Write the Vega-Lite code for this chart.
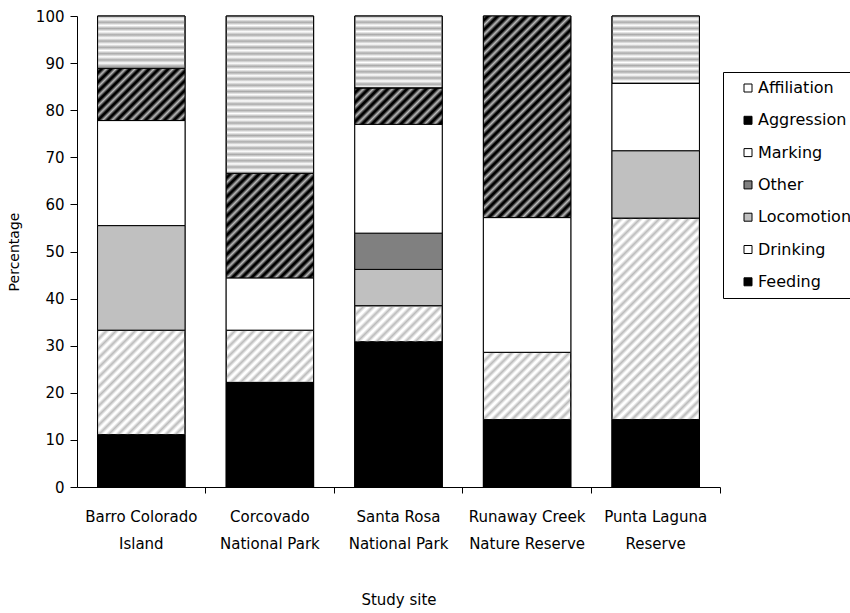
{
  "$schema": "https://vega.github.io/schema/vega-lite/v6.json",
  "width": 643,
  "height": 471,
  "autosize": {"type": "none"},
  "padding": {"left": 77, "top": 16, "right": 130, "bottom": 126},
  "background": "white",
  "config": {
    "view": {"stroke": null},
    "axis": {
      "grid": false,
      "domainColor": "black",
      "tickColor": "black",
      "labelColor": "black",
      "titleColor": "black",
      "labelFont": "DejaVu Sans",
      "titleFont": "DejaVu Sans",
      "labelFontSize": 15,
      "titleFontSize": 15,
      "titleFontWeight": "normal",
      "domainWidth": 1,
      "tickWidth": 1
    }
  },
  "data": {
    "values": [
      {"site": "Barro Colorado Island", "behavior": "Feeding", "percentage": 11.1},
      {"site": "Barro Colorado Island", "behavior": "Drinking", "percentage": 22.2},
      {"site": "Barro Colorado Island", "behavior": "Locomotion", "percentage": 22.2},
      {"site": "Barro Colorado Island", "behavior": "Marking", "percentage": 22.3},
      {"site": "Barro Colorado Island", "behavior": "Aggression", "percentage": 11.1},
      {"site": "Barro Colorado Island", "behavior": "Affiliation", "percentage": 11.1},
      {"site": "Corcovado National Park", "behavior": "Feeding", "percentage": 22.2},
      {"site": "Corcovado National Park", "behavior": "Drinking", "percentage": 11.1},
      {"site": "Corcovado National Park", "behavior": "Marking", "percentage": 11.1},
      {"site": "Corcovado National Park", "behavior": "Aggression", "percentage": 22.2},
      {"site": "Corcovado National Park", "behavior": "Affiliation", "percentage": 33.4},
      {"site": "Santa Rosa National Park", "behavior": "Feeding", "percentage": 30.8},
      {"site": "Santa Rosa National Park", "behavior": "Drinking", "percentage": 7.7},
      {"site": "Santa Rosa National Park", "behavior": "Locomotion", "percentage": 7.7},
      {"site": "Santa Rosa National Park", "behavior": "Other", "percentage": 7.7},
      {"site": "Santa Rosa National Park", "behavior": "Marking", "percentage": 23.1},
      {"site": "Santa Rosa National Park", "behavior": "Aggression", "percentage": 7.7},
      {"site": "Santa Rosa National Park", "behavior": "Affiliation", "percentage": 15.3},
      {"site": "Runaway Creek Nature Reserve", "behavior": "Feeding", "percentage": 14.3},
      {"site": "Runaway Creek Nature Reserve", "behavior": "Drinking", "percentage": 14.3},
      {"site": "Runaway Creek Nature Reserve", "behavior": "Marking", "percentage": 28.6},
      {"site": "Runaway Creek Nature Reserve", "behavior": "Aggression", "percentage": 42.8},
      {"site": "Punta Laguna Reserve", "behavior": "Feeding", "percentage": 14.3},
      {"site": "Punta Laguna Reserve", "behavior": "Drinking", "percentage": 42.8},
      {"site": "Punta Laguna Reserve", "behavior": "Locomotion", "percentage": 14.3},
      {"site": "Punta Laguna Reserve", "behavior": "Marking", "percentage": 14.3},
      {"site": "Punta Laguna Reserve", "behavior": "Affiliation", "percentage": 14.3}
    ]
  },
  "transform": [
    {
      "lookup": "behavior",
      "from": {
        "data": {
          "values": [
            {"behavior": "Feeding", "seriesOrder": 1},
            {"behavior": "Drinking", "seriesOrder": 2},
            {"behavior": "Locomotion", "seriesOrder": 3},
            {"behavior": "Other", "seriesOrder": 4},
            {"behavior": "Marking", "seriesOrder": 5},
            {"behavior": "Aggression", "seriesOrder": 6},
            {"behavior": "Affiliation", "seriesOrder": 7}
          ]
        },
        "key": "behavior",
        "fields": ["seriesOrder"]
      }
    }
  ],
  "encoding": {
    "x": {
      "field": "site",
      "type": "nominal",
      "sort": null,
      "scale": {"paddingInner": 0.32, "paddingOuter": 0.16},
      "axis": {
        "title": "Study site",
        "labelAngle": 0,
        "bandPosition": 1.2355,
        "tickSize": 6,
        "labelPadding": 16,
        "labelLineHeight": 27,
        "labelOverlap": false,
        "labelExpr": "datum.label === 'Corcovado National Park' ? ['Corcovado', 'National Park'] : datum.label === 'Santa Rosa National Park' ? ['Santa Rosa', 'National Park'] : datum.label === 'Runaway Creek Nature Reserve' ? ['Runaway Creek', 'Nature Reserve'] : datum.label === 'Punta Laguna Reserve' ? ['Punta Laguna', 'Reserve'] : ['Barro Colorado', 'Island']",
        "titleY": 117,
        "titleBaseline": "alphabetic"
      }
    },
    "y": {
      "field": "percentage",
      "type": "quantitative",
      "stack": "zero",
      "scale": {"domain": [0, 100], "nice": false},
      "axis": {
        "title": "Percentage",
        "values": [0, 10, 20, 30, 40, 50, 60, 70, 80, 90, 100],
        "tickSize": 7,
        "labelPadding": 6,
        "titleX": -59,
        "titleY": 235.5,
        "titleAngle": -90,
        "titleBaseline": "alphabetic",
        "titleAlign": "center",
        "titleFontSize": 14
      }
    },
    "order": {"field": "seriesOrder", "type": "quantitative", "sort": "ascending"}
  },
  "layer": [
    {
      "mark": {"type": "bar", "stroke": "black", "strokeWidth": 1},
      "encoding": {
        "fill": {
          "field": "behavior",
          "type": "nominal",
          "scale": {
            "domain": ["Affiliation", "Aggression", "Marking", "Other", "Locomotion", "Drinking", "Feeding"],
            "range": ["#ffffff", "#000000", "#ffffff", "#808080", "#c0c0c0", "#ffffff", "#000000"]
          },
          "legend": {
            "title": null,
            "orient": "none",
            "direction": "vertical",
            "legendX": 646,
            "legendY": 56,
            "padding": 8,
            "strokeColor": "black",
            "fillColor": "white",
            "symbolType": "square",
            "symbolSize": 64,
            "symbolStrokeColor": "black",
            "symbolStrokeWidth": 1,
            "symbolOffset": 9,
            "labelOffset": 2,
            "rowPadding": 16.3,
            "labelFont": "DejaVu Sans",
            "labelFontSize": 16,
            "labelColor": "black"
          }
        }
      }
    },
    {
      "mark": {"type": "bar", "stroke": "black", "strokeWidth": 1},
      "encoding": {
        "fill": {
          "condition": [
            {"test": "(datum.behavior === 'Drinking' || datum.behavior === 'Aggression') && datum.percentage < 9", "value": {"gradient": "linear", "x1": 0, "y1": 0, "x2": 1.207, "y2": 0.5006, "stops": [
              {"offset": 0, "color": "#bbb"}, {"offset": 0.0312, "color": "#bbb0"}, {"offset": 0.0468, "color": "#bbb0"},
              {"offset": 0.078, "color": "#bbb"}, {"offset": 0.1092, "color": "#bbb0"}, {"offset": 0.1248, "color": "#bbb0"},
              {"offset": 0.156, "color": "#bbb"}, {"offset": 0.1872, "color": "#bbb0"}, {"offset": 0.2028, "color": "#bbb0"},
              {"offset": 0.234, "color": "#bbb"}, {"offset": 0.2652, "color": "#bbb0"}, {"offset": 0.2808, "color": "#bbb0"},
              {"offset": 0.312, "color": "#bbb"}, {"offset": 0.3432, "color": "#bbb0"}, {"offset": 0.3588, "color": "#bbb0"},
              {"offset": 0.39, "color": "#bbb"}, {"offset": 0.4212, "color": "#bbb0"}, {"offset": 0.4368, "color": "#bbb0"},
              {"offset": 0.468, "color": "#bbb"}, {"offset": 0.4992, "color": "#bbb0"}, {"offset": 0.5148, "color": "#bbb0"},
              {"offset": 0.546, "color": "#bbb"}, {"offset": 0.5772, "color": "#bbb0"}, {"offset": 0.5928, "color": "#bbb0"},
              {"offset": 0.624, "color": "#bbb"}, {"offset": 0.6552, "color": "#bbb0"}, {"offset": 0.6708, "color": "#bbb0"},
              {"offset": 0.702, "color": "#bbb"}, {"offset": 0.7332, "color": "#bbb0"}, {"offset": 0.7488, "color": "#bbb0"},
              {"offset": 0.78, "color": "#bbb"}, {"offset": 0.8112, "color": "#bbb0"}, {"offset": 0.8268, "color": "#bbb0"},
              {"offset": 0.858, "color": "#bbb"}, {"offset": 0.8892, "color": "#bbb0"}, {"offset": 0.9048, "color": "#bbb0"},
              {"offset": 0.936, "color": "#bbb"}, {"offset": 0.9672, "color": "#bbb0"}, {"offset": 0.9828, "color": "#bbb0"}]}},
            {"test": "(datum.behavior === 'Drinking' || datum.behavior === 'Aggression') && datum.percentage < 13", "value": {"gradient": "linear", "x1": 0, "y1": 0, "x2": 1.1772, "y2": 0.7038, "stops": [
              {"offset": 0, "color": "#bbb"}, {"offset": 0.0272, "color": "#bbb0"}, {"offset": 0.0408, "color": "#bbb0"},
              {"offset": 0.068, "color": "#bbb"}, {"offset": 0.0952, "color": "#bbb0"}, {"offset": 0.1088, "color": "#bbb0"},
              {"offset": 0.136, "color": "#bbb"}, {"offset": 0.1632, "color": "#bbb0"}, {"offset": 0.1768, "color": "#bbb0"},
              {"offset": 0.204, "color": "#bbb"}, {"offset": 0.2312, "color": "#bbb0"}, {"offset": 0.2448, "color": "#bbb0"},
              {"offset": 0.272, "color": "#bbb"}, {"offset": 0.2992, "color": "#bbb0"}, {"offset": 0.3128, "color": "#bbb0"},
              {"offset": 0.34, "color": "#bbb"}, {"offset": 0.3672, "color": "#bbb0"}, {"offset": 0.3808, "color": "#bbb0"},
              {"offset": 0.408, "color": "#bbb"}, {"offset": 0.4352, "color": "#bbb0"}, {"offset": 0.4488, "color": "#bbb0"},
              {"offset": 0.476, "color": "#bbb"}, {"offset": 0.5032, "color": "#bbb0"}, {"offset": 0.5168, "color": "#bbb0"},
              {"offset": 0.544, "color": "#bbb"}, {"offset": 0.5712, "color": "#bbb0"}, {"offset": 0.5848, "color": "#bbb0"},
              {"offset": 0.612, "color": "#bbb"}, {"offset": 0.6392, "color": "#bbb0"}, {"offset": 0.6528, "color": "#bbb0"},
              {"offset": 0.68, "color": "#bbb"}, {"offset": 0.7072, "color": "#bbb0"}, {"offset": 0.7208, "color": "#bbb0"},
              {"offset": 0.748, "color": "#bbb"}, {"offset": 0.7752, "color": "#bbb0"}, {"offset": 0.7888, "color": "#bbb0"},
              {"offset": 0.816, "color": "#bbb"}, {"offset": 0.8432, "color": "#bbb0"}, {"offset": 0.8568, "color": "#bbb0"},
              {"offset": 0.884, "color": "#bbb"}, {"offset": 0.9112, "color": "#bbb0"}, {"offset": 0.9248, "color": "#bbb0"},
              {"offset": 0.952, "color": "#bbb"}, {"offset": 0.9792, "color": "#bbb0"}, {"offset": 0.9928, "color": "#bbb0"}]}},
            {"test": "(datum.behavior === 'Drinking' || datum.behavior === 'Aggression') && datum.percentage < 18", "value": {"gradient": "linear", "x1": 0, "y1": 0, "x2": 1.1111, "y2": 0.8557, "stops": [
              {"offset": 0, "color": "#bbb"}, {"offset": 0.0248, "color": "#bbb0"}, {"offset": 0.0372, "color": "#bbb0"},
              {"offset": 0.062, "color": "#bbb"}, {"offset": 0.0868, "color": "#bbb0"}, {"offset": 0.0992, "color": "#bbb0"},
              {"offset": 0.124, "color": "#bbb"}, {"offset": 0.1488, "color": "#bbb0"}, {"offset": 0.1612, "color": "#bbb0"},
              {"offset": 0.186, "color": "#bbb"}, {"offset": 0.2108, "color": "#bbb0"}, {"offset": 0.2232, "color": "#bbb0"},
              {"offset": 0.248, "color": "#bbb"}, {"offset": 0.2728, "color": "#bbb0"}, {"offset": 0.2852, "color": "#bbb0"},
              {"offset": 0.31, "color": "#bbb"}, {"offset": 0.3348, "color": "#bbb0"}, {"offset": 0.3472, "color": "#bbb0"},
              {"offset": 0.372, "color": "#bbb"}, {"offset": 0.3968, "color": "#bbb0"}, {"offset": 0.4092, "color": "#bbb0"},
              {"offset": 0.434, "color": "#bbb"}, {"offset": 0.4588, "color": "#bbb0"}, {"offset": 0.4712, "color": "#bbb0"},
              {"offset": 0.496, "color": "#bbb"}, {"offset": 0.5208, "color": "#bbb0"}, {"offset": 0.5332, "color": "#bbb0"},
              {"offset": 0.558, "color": "#bbb"}, {"offset": 0.5828, "color": "#bbb0"}, {"offset": 0.5952, "color": "#bbb0"},
              {"offset": 0.62, "color": "#bbb"}, {"offset": 0.6448, "color": "#bbb0"}, {"offset": 0.6572, "color": "#bbb0"},
              {"offset": 0.682, "color": "#bbb"}, {"offset": 0.7068, "color": "#bbb0"}, {"offset": 0.7192, "color": "#bbb0"},
              {"offset": 0.744, "color": "#bbb"}, {"offset": 0.7688, "color": "#bbb0"}, {"offset": 0.7812, "color": "#bbb0"},
              {"offset": 0.806, "color": "#bbb"}, {"offset": 0.8308, "color": "#bbb0"}, {"offset": 0.8432, "color": "#bbb0"},
              {"offset": 0.868, "color": "#bbb"}, {"offset": 0.8928, "color": "#bbb0"}, {"offset": 0.9052, "color": "#bbb0"},
              {"offset": 0.93, "color": "#bbb"}, {"offset": 0.9548, "color": "#bbb0"}, {"offset": 0.9672, "color": "#bbb0"},
              {"offset": 0.992, "color": "#bbb"}]}},
            {"test": "(datum.behavior === 'Drinking' || datum.behavior === 'Aggression') && datum.percentage < 30", "value": {"gradient": "linear", "x1": 0, "y1": 0, "x2": 0.9037, "y2": 1.0805, "stops": [
              {"offset": 0, "color": "#bbb"}, {"offset": 0.02, "color": "#bbb0"}, {"offset": 0.03, "color": "#bbb0"},
              {"offset": 0.05, "color": "#bbb"}, {"offset": 0.07, "color": "#bbb0"}, {"offset": 0.08, "color": "#bbb0"},
              {"offset": 0.1, "color": "#bbb"}, {"offset": 0.12, "color": "#bbb0"}, {"offset": 0.13, "color": "#bbb0"},
              {"offset": 0.15, "color": "#bbb"}, {"offset": 0.17, "color": "#bbb0"}, {"offset": 0.18, "color": "#bbb0"},
              {"offset": 0.2, "color": "#bbb"}, {"offset": 0.22, "color": "#bbb0"}, {"offset": 0.23, "color": "#bbb0"},
              {"offset": 0.25, "color": "#bbb"}, {"offset": 0.27, "color": "#bbb0"}, {"offset": 0.28, "color": "#bbb0"},
              {"offset": 0.3, "color": "#bbb"}, {"offset": 0.32, "color": "#bbb0"}, {"offset": 0.33, "color": "#bbb0"},
              {"offset": 0.35, "color": "#bbb"}, {"offset": 0.37, "color": "#bbb0"}, {"offset": 0.38, "color": "#bbb0"},
              {"offset": 0.4, "color": "#bbb"}, {"offset": 0.42, "color": "#bbb0"}, {"offset": 0.43, "color": "#bbb0"},
              {"offset": 0.45, "color": "#bbb"}, {"offset": 0.47, "color": "#bbb0"}, {"offset": 0.48, "color": "#bbb0"},
              {"offset": 0.5, "color": "#bbb"}, {"offset": 0.52, "color": "#bbb0"}, {"offset": 0.53, "color": "#bbb0"},
              {"offset": 0.55, "color": "#bbb"}, {"offset": 0.57, "color": "#bbb0"}, {"offset": 0.58, "color": "#bbb0"},
              {"offset": 0.6, "color": "#bbb"}, {"offset": 0.62, "color": "#bbb0"}, {"offset": 0.63, "color": "#bbb0"},
              {"offset": 0.65, "color": "#bbb"}, {"offset": 0.67, "color": "#bbb0"}, {"offset": 0.68, "color": "#bbb0"},
              {"offset": 0.7, "color": "#bbb"}, {"offset": 0.72, "color": "#bbb0"}, {"offset": 0.73, "color": "#bbb0"},
              {"offset": 0.75, "color": "#bbb"}, {"offset": 0.77, "color": "#bbb0"}, {"offset": 0.78, "color": "#bbb0"},
              {"offset": 0.8, "color": "#bbb"}, {"offset": 0.82, "color": "#bbb0"}, {"offset": 0.83, "color": "#bbb0"},
              {"offset": 0.85, "color": "#bbb"}, {"offset": 0.87, "color": "#bbb0"}, {"offset": 0.88, "color": "#bbb0"},
              {"offset": 0.9, "color": "#bbb"}, {"offset": 0.92, "color": "#bbb0"}, {"offset": 0.93, "color": "#bbb0"},
              {"offset": 0.95, "color": "#bbb"}, {"offset": 0.97, "color": "#bbb0"}, {"offset": 0.98, "color": "#bbb0"},
              {"offset": 1, "color": "#bbb"}]}},
            {"test": "datum.behavior === 'Drinking' || datum.behavior === 'Aggression'", "value": {"gradient": "linear", "x1": 0, "y1": 0, "x2": 0.5235, "y2": 1.2068, "stops": [
              {"offset": 0, "color": "#bbb"}, {"offset": 0.0133, "color": "#bbb0"}, {"offset": 0.02, "color": "#bbb0"},
              {"offset": 0.0333, "color": "#bbb"}, {"offset": 0.0466, "color": "#bbb0"}, {"offset": 0.0533, "color": "#bbb0"},
              {"offset": 0.0666, "color": "#bbb"}, {"offset": 0.0799, "color": "#bbb0"}, {"offset": 0.0866, "color": "#bbb0"},
              {"offset": 0.0999, "color": "#bbb"}, {"offset": 0.1132, "color": "#bbb0"}, {"offset": 0.1199, "color": "#bbb0"},
              {"offset": 0.1332, "color": "#bbb"}, {"offset": 0.1465, "color": "#bbb0"}, {"offset": 0.1532, "color": "#bbb0"},
              {"offset": 0.1665, "color": "#bbb"}, {"offset": 0.1798, "color": "#bbb0"}, {"offset": 0.1865, "color": "#bbb0"},
              {"offset": 0.1998, "color": "#bbb"}, {"offset": 0.2131, "color": "#bbb0"}, {"offset": 0.2198, "color": "#bbb0"},
              {"offset": 0.2331, "color": "#bbb"}, {"offset": 0.2464, "color": "#bbb0"}, {"offset": 0.2531, "color": "#bbb0"},
              {"offset": 0.2664, "color": "#bbb"}, {"offset": 0.2797, "color": "#bbb0"}, {"offset": 0.2864, "color": "#bbb0"},
              {"offset": 0.2997, "color": "#bbb"}, {"offset": 0.313, "color": "#bbb0"}, {"offset": 0.3197, "color": "#bbb0"},
              {"offset": 0.333, "color": "#bbb"}, {"offset": 0.3463, "color": "#bbb0"}, {"offset": 0.353, "color": "#bbb0"},
              {"offset": 0.3663, "color": "#bbb"}, {"offset": 0.3796, "color": "#bbb0"}, {"offset": 0.3863, "color": "#bbb0"},
              {"offset": 0.3996, "color": "#bbb"}, {"offset": 0.4129, "color": "#bbb0"}, {"offset": 0.4196, "color": "#bbb0"},
              {"offset": 0.4329, "color": "#bbb"}, {"offset": 0.4462, "color": "#bbb0"}, {"offset": 0.4529, "color": "#bbb0"},
              {"offset": 0.4662, "color": "#bbb"}, {"offset": 0.4795, "color": "#bbb0"}, {"offset": 0.4862, "color": "#bbb0"},
              {"offset": 0.4995, "color": "#bbb"}, {"offset": 0.5128, "color": "#bbb0"}, {"offset": 0.5195, "color": "#bbb0"},
              {"offset": 0.5328, "color": "#bbb"}, {"offset": 0.5461, "color": "#bbb0"}, {"offset": 0.5528, "color": "#bbb0"},
              {"offset": 0.5661, "color": "#bbb"}, {"offset": 0.5794, "color": "#bbb0"}, {"offset": 0.5861, "color": "#bbb0"},
              {"offset": 0.5994, "color": "#bbb"}, {"offset": 0.6127, "color": "#bbb0"}, {"offset": 0.6194, "color": "#bbb0"},
              {"offset": 0.6327, "color": "#bbb"}, {"offset": 0.646, "color": "#bbb0"}, {"offset": 0.6527, "color": "#bbb0"},
              {"offset": 0.666, "color": "#bbb"}, {"offset": 0.6793, "color": "#bbb0"}, {"offset": 0.686, "color": "#bbb0"},
              {"offset": 0.6993, "color": "#bbb"}, {"offset": 0.7126, "color": "#bbb0"}, {"offset": 0.7193, "color": "#bbb0"},
              {"offset": 0.7326, "color": "#bbb"}, {"offset": 0.7459, "color": "#bbb0"}, {"offset": 0.7526, "color": "#bbb0"},
              {"offset": 0.7659, "color": "#bbb"}, {"offset": 0.7792, "color": "#bbb0"}, {"offset": 0.7859, "color": "#bbb0"},
              {"offset": 0.7992, "color": "#bbb"}, {"offset": 0.8125, "color": "#bbb0"}, {"offset": 0.8192, "color": "#bbb0"},
              {"offset": 0.8325, "color": "#bbb"}, {"offset": 0.8458, "color": "#bbb0"}, {"offset": 0.8525, "color": "#bbb0"},
              {"offset": 0.8658, "color": "#bbb"}, {"offset": 0.8791, "color": "#bbb0"}, {"offset": 0.8858, "color": "#bbb0"},
              {"offset": 0.8991, "color": "#bbb"}, {"offset": 0.9124, "color": "#bbb0"}, {"offset": 0.9191, "color": "#bbb0"},
              {"offset": 0.9324, "color": "#bbb"}, {"offset": 0.9457, "color": "#bbb0"}, {"offset": 0.9524, "color": "#bbb0"},
              {"offset": 0.9657, "color": "#bbb"}, {"offset": 0.979, "color": "#bbb0"}, {"offset": 0.9857, "color": "#bbb0"},
              {"offset": 0.999, "color": "#bbb"}]}},
            {"test": "datum.behavior === 'Affiliation' && datum.percentage < 12.5", "value": {"gradient": "linear", "x1": 0, "y1": 0, "x2": 0, "y2": 1, "stops": [
              {"offset": 0, "color": "#aaa"}, {"offset": 0.06, "color": "#aaa0"}, {"offset": 0.12, "color": "#aaa"}, {"offset": 0.18, "color": "#aaa0"}, {"offset": 0.24, "color": "#aaa"}, {"offset": 0.3, "color": "#aaa0"}, {"offset": 0.36, "color": "#aaa"}, {"offset": 0.42, "color": "#aaa0"}, {"offset": 0.48, "color": "#aaa"}, {"offset": 0.54, "color": "#aaa0"}, {"offset": 0.6, "color": "#aaa"}, {"offset": 0.66, "color": "#aaa0"}, {"offset": 0.72, "color": "#aaa"}, {"offset": 0.78, "color": "#aaa0"}, {"offset": 0.84, "color": "#aaa"}, {"offset": 0.9, "color": "#aaa0"}, {"offset": 0.96, "color": "#aaa"}]}},
            {"test": "datum.behavior === 'Affiliation' && datum.percentage < 14.8", "value": {"gradient": "linear", "x1": 0, "y1": 0, "x2": 0, "y2": 1, "stops": [
              {"offset": 0, "color": "#aaa"}, {"offset": 0.046, "color": "#aaa0"}, {"offset": 0.092, "color": "#aaa"}, {"offset": 0.138, "color": "#aaa0"}, {"offset": 0.184, "color": "#aaa"}, {"offset": 0.23, "color": "#aaa0"}, {"offset": 0.276, "color": "#aaa"}, {"offset": 0.322, "color": "#aaa0"}, {"offset": 0.368, "color": "#aaa"}, {"offset": 0.414, "color": "#aaa0"}, {"offset": 0.46, "color": "#aaa"}, {"offset": 0.506, "color": "#aaa0"}, {"offset": 0.552, "color": "#aaa"}, {"offset": 0.598, "color": "#aaa0"}, {"offset": 0.644, "color": "#aaa"}, {"offset": 0.69, "color": "#aaa0"}, {"offset": 0.736, "color": "#aaa"}, {"offset": 0.782, "color": "#aaa0"}, {"offset": 0.828, "color": "#aaa"}, {"offset": 0.874, "color": "#aaa0"}, {"offset": 0.92, "color": "#aaa"}, {"offset": 0.966, "color": "#aaa0"}]}},
            {"test": "datum.behavior === 'Affiliation' && datum.percentage < 20", "value": {"gradient": "linear", "x1": 0, "y1": 0, "x2": 0, "y2": 1, "stops": [
              {"offset": 0, "color": "#aaa"}, {"offset": 0.043, "color": "#aaa0"}, {"offset": 0.086, "color": "#aaa"}, {"offset": 0.129, "color": "#aaa0"}, {"offset": 0.172, "color": "#aaa"}, {"offset": 0.215, "color": "#aaa0"}, {"offset": 0.258, "color": "#aaa"}, {"offset": 0.301, "color": "#aaa0"}, {"offset": 0.344, "color": "#aaa"}, {"offset": 0.387, "color": "#aaa0"}, {"offset": 0.43, "color": "#aaa"}, {"offset": 0.473, "color": "#aaa0"}, {"offset": 0.516, "color": "#aaa"}, {"offset": 0.559, "color": "#aaa0"}, {"offset": 0.602, "color": "#aaa"}, {"offset": 0.645, "color": "#aaa0"}, {"offset": 0.688, "color": "#aaa"}, {"offset": 0.731, "color": "#aaa0"}, {"offset": 0.774, "color": "#aaa"}, {"offset": 0.817, "color": "#aaa0"}, {"offset": 0.86, "color": "#aaa"}, {"offset": 0.903, "color": "#aaa0"}, {"offset": 0.946, "color": "#aaa"}, {"offset": 0.989, "color": "#aaa0"}]}},
            {"test": "datum.behavior === 'Affiliation'", "value": {"gradient": "linear", "x1": 0, "y1": 0, "x2": 0, "y2": 1, "stops": [
              {"offset": 0, "color": "#aaa"}, {"offset": 0.02, "color": "#aaa0"}, {"offset": 0.04, "color": "#aaa"}, {"offset": 0.06, "color": "#aaa0"}, {"offset": 0.08, "color": "#aaa"}, {"offset": 0.1, "color": "#aaa0"}, {"offset": 0.12, "color": "#aaa"}, {"offset": 0.14, "color": "#aaa0"}, {"offset": 0.16, "color": "#aaa"}, {"offset": 0.18, "color": "#aaa0"}, {"offset": 0.2, "color": "#aaa"}, {"offset": 0.22, "color": "#aaa0"}, {"offset": 0.24, "color": "#aaa"}, {"offset": 0.26, "color": "#aaa0"}, {"offset": 0.28, "color": "#aaa"}, {"offset": 0.3, "color": "#aaa0"}, {"offset": 0.32, "color": "#aaa"}, {"offset": 0.34, "color": "#aaa0"}, {"offset": 0.36, "color": "#aaa"}, {"offset": 0.38, "color": "#aaa0"}, {"offset": 0.4, "color": "#aaa"}, {"offset": 0.42, "color": "#aaa0"}, {"offset": 0.44, "color": "#aaa"}, {"offset": 0.46, "color": "#aaa0"}, {"offset": 0.48, "color": "#aaa"}, {"offset": 0.5, "color": "#aaa0"}, {"offset": 0.52, "color": "#aaa"}, {"offset": 0.54, "color": "#aaa0"}, {"offset": 0.56, "color": "#aaa"}, {"offset": 0.58, "color": "#aaa0"}, {"offset": 0.6, "color": "#aaa"}, {"offset": 0.62, "color": "#aaa0"}, {"offset": 0.64, "color": "#aaa"}, {"offset": 0.66, "color": "#aaa0"}, {"offset": 0.68, "color": "#aaa"}, {"offset": 0.7, "color": "#aaa0"}, {"offset": 0.72, "color": "#aaa"}, {"offset": 0.74, "color": "#aaa0"}, {"offset": 0.76, "color": "#aaa"}, {"offset": 0.78, "color": "#aaa0"}, {"offset": 0.8, "color": "#aaa"}, {"offset": 0.82, "color": "#aaa0"}, {"offset": 0.84, "color": "#aaa"}, {"offset": 0.86, "color": "#aaa0"}, {"offset": 0.88, "color": "#aaa"}, {"offset": 0.9, "color": "#aaa0"}, {"offset": 0.92, "color": "#aaa"}, {"offset": 0.94, "color": "#aaa0"}, {"offset": 0.96, "color": "#aaa"}, {"offset": 0.98, "color": "#aaa0"}, {"offset": 1, "color": "#aaa"}]}}
          ],
          "field": "behavior",
          "type": "nominal"
        }
      }
    }
  ]
}
